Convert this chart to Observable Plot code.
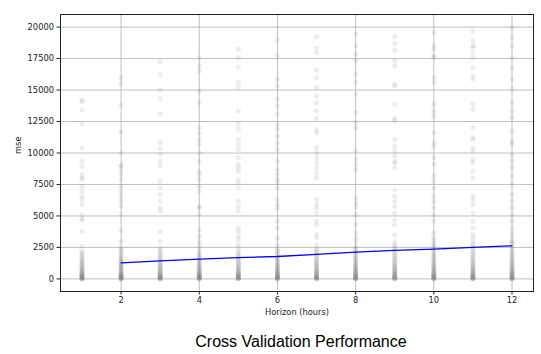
<!DOCTYPE html>
<html>
<head>
<meta charset="utf-8">
<script src="https://cdn.jsdelivr.net/npm/d3@7"></script>
<script src="https://cdn.jsdelivr.net/npm/@observablehq/plot@0.6"></script>
<style>
  html, body { margin: 0; padding: 0; background: white; }
  #chart { width: 541px; }
  #title { width: 480px; margin-left: 61px; text-align: center; font-family: "Liberation Sans", Arial, sans-serif; font-size: 16px; line-height: 19px; color: #000; margin-top: 10px; }
</style>
</head>
<body>
<div id="chart"></div>
<div id="title">Cross Validation Performance</div>
<script>
const horizons = [1, 2, 3, 4, 5, 6, 7, 8, 9, 10, 11, 12];
const xTicks = [2, 4, 6, 8, 10, 12];
const yTicks = [0, 2500, 5000, 7500, 10000, 12500, 15000, 17500, 20000];

const mse1 = [14190, 14100, 13390, 12330, 10410, 9350, 8950, 8290, 8020, 7890, 7360, 6960, 6560, 6300, 5900, 5100, 4780, 4700, 3770, 2580, 2180, 2050, 1910,
  0, 10, 20, 35, 50, 70, 90, 110, 130, 160, 190, 220, 250, 290, 330, 370, 410, 450, 500, 550, 600, 660, 720, 780, 850, 920, 990, 1060, 1140, 1220, 1300, 1380, 1470, 1560, 1680, 1800];
const mse2 = [16000, 15540, 13810, 11690, 10020, 9030, 8990, 8690, 8290, 7890, 7360, 6960, 6560, 6160, 5760, 5100, 3830, 2970, 2450, 2310, 2150,
  0, 15, 30, 45, 60, 80, 100, 125, 150, 180, 210, 240, 280, 320, 360, 400, 450, 500, 550, 610, 670, 730, 800, 870, 940, 1010, 1090, 1170, 1250, 1340, 1430, 1520, 1620, 1730, 1850, 1980];
const mse3 = [17240, 16230, 15040, 14320, 13120, 10860, 10330, 9880, 9350, 8950, 7760, 7230, 6700, 6160, 5630, 5370, 3770, 2970, 2450, 2300,
  0, 10, 25, 40, 60, 80, 105, 130, 160, 190, 220, 260, 300, 340, 380, 430, 480, 530, 590, 650, 710, 780, 850, 920, 1000, 1080, 1160, 1250, 1340, 1440, 1540, 1650, 1760, 1880, 2010, 2150];
const mse4 = [17590, 16920, 16520, 14930, 14000, 12010, 11610, 11080, 10680, 10020, 9350, 8550, 8290, 7890, 7360, 6960, 5760, 5630, 5100, 3910, 3370, 2970, 2710, 2450,
  0, 15, 30, 50, 70, 90, 115, 140, 170, 200, 235, 270, 310, 350, 395, 440, 490, 540, 600, 660, 720, 790, 860, 930, 1010, 1090, 1170, 1260, 1350, 1450, 1550, 1660, 1780, 1900, 2050, 2200];
const mse5 = [18250, 17590, 16840, 15600, 15250, 13340, 12330, 11880, 11080, 10680, 10280, 9620, 9090, 8820, 8550, 7890, 7630, 7230, 6160, 5760, 5370, 4040, 3770, 3370, 3110, 2710, 2450,
  0, 10, 25, 45, 65, 85, 110, 135, 165, 195, 230, 265, 305, 345, 390, 435, 485, 535, 590, 650, 710, 780, 850, 920, 1000, 1080, 1170, 1260, 1350, 1450, 1560, 1670, 1790, 1920, 2060, 2200];
const mse6 = [18970, 17720, 15860, 15330, 14270, 13730, 13070, 12270, 11880, 11340, 10810, 10280, 9350, 8690, 8290, 7890, 7630, 7230, 6300, 5900, 5630, 4570, 4040, 3240, 2710,
  0, 15, 30, 50, 70, 95, 120, 145, 175, 205, 240, 275, 315, 360, 405, 450, 500, 555, 610, 670, 730, 800, 870, 940, 1020, 1100, 1190, 1280, 1380, 1480, 1590, 1700, 1820, 1950, 2090, 2240, 2400];
const mse7 = [19240, 18330, 17990, 16580, 16000, 15200, 14530, 14000, 13340, 12750, 11800, 11610, 10410, 10020, 9620, 9220, 8820, 8420, 8020, 6300, 5900, 5630, 5240, 4570, 4300, 3510, 3240, 2710,
  0, 10, 25, 45, 65, 90, 115, 140, 170, 200, 235, 270, 310, 355, 400, 450, 500, 555, 615, 675, 740, 810, 880, 960, 1040, 1120, 1210, 1300, 1400, 1500, 1610, 1720, 1840, 1970, 2110, 2260, 2420];
const mse8 = [19450, 18520, 17850, 17320, 16260, 15600, 14660, 13210, 12410, 12010, 10150, 9480, 9090, 8690, 6430, 6030, 5760, 5100, 4300, 3640, 3240, 2970,
  0, 15, 30, 50, 75, 100, 125, 155, 185, 220, 255, 295, 335, 380, 425, 475, 525, 580, 640, 700, 765, 835, 905, 980, 1060, 1140, 1230, 1320, 1420, 1520, 1630, 1740, 1860, 1990, 2130, 2280, 2440, 2600];
const mse9 = [19240, 18700, 18170, 17320, 16920, 15460, 15330, 13870, 12750, 12590, 11080, 10540, 10150, 9750, 9350, 9220, 8820, 7090, 6560, 6160, 5760, 5240, 4700, 4300, 3510, 2970, 2710,
  0, 10, 25, 45, 70, 95, 120, 150, 180, 215, 250, 290, 330, 375, 420, 470, 520, 575, 635, 695, 760, 830, 900, 975, 1055, 1135, 1225, 1315, 1415, 1515, 1625, 1735, 1855, 1985, 2125, 2275, 2435, 2600];
const mse10 = [19580, 18520, 18250, 17720, 17600, 16000, 15600, 13870, 13340, 12940, 11610, 10810, 10540, 9620, 9090, 8150, 7760, 7230, 6560, 6160, 5630, 5100, 4570, 3640, 3240, 2970,
  0, 15, 30, 50, 75, 100, 130, 160, 190, 225, 260, 300, 340, 385, 430, 480, 530, 585, 645, 705, 770, 840, 910, 985, 1065, 1150, 1240, 1330, 1430, 1530, 1640, 1750, 1870, 2000, 2140, 2290, 2450, 2620, 2800];
const mse11 = [19710, 18910, 18520, 18390, 17990, 17590, 16790, 16120, 15860, 13870, 13470, 12010, 11210, 11080, 10410, 10150, 9480, 9220, 8550, 8020, 6560, 6300, 5900, 5240, 4570, 4040, 3510, 3240,
  0, 10, 25, 45, 70, 95, 125, 155, 185, 220, 255, 295, 335, 380, 425, 475, 525, 580, 640, 700, 765, 835, 905, 980, 1060, 1145, 1235, 1325, 1425, 1525, 1635, 1745, 1865, 1995, 2135, 2285, 2445, 2615, 2800, 3000];
const mse12 = [19980, 19180, 18520, 17590, 16790, 15860, 15060, 14000, 13340, 12810, 11740, 10940, 10680, 9880, 9350, 8820, 8150, 7490, 6700, 6160, 5630, 5100, 4570, 4040, 3640, 3370, 2970,
  0, 15, 30, 50, 75, 100, 130, 160, 195, 230, 265, 305, 345, 390, 435, 485, 535, 590, 650, 710, 775, 845, 915, 990, 1070, 1155, 1245, 1335, 1435, 1535, 1645, 1755, 1875, 2005, 2145, 2295, 2455, 2625, 2810, 3010];

const lineHorizons = [2, 3, 4, 5, 6, 7, 8, 9, 10, 11, 12];
const lineMse = [1280, 1430, 1570, 1690, 1780, 1950, 2125, 2260, 2365, 2500, 2630];

const allSeries = [mse1, mse2, mse3, mse4, mse5, mse6, mse7, mse8, mse9, mse10, mse11, mse12];
const points = [];
horizons.forEach((h, i) => allSeries[i].forEach(v => points.push({h, v})));
const meanData = lineHorizons.map((h, i) => ({h, v: lineMse[i]}));

const chart = Plot.plot({
  width: 541,
  height: 322,
  marginLeft: 60,
  marginRight: 8,
  marginTop: 14,
  marginBottom: 31,
  style: {fontFamily: "DejaVu Sans", fontSize: "8.3px", background: "white", color: "#222"},
  x: {domain: [0.45, 12.55]},
  y: {domain: [-1000, 21000]},
  marks: [
    Plot.gridX(xTicks, {stroke: "#b0b0b0", strokeOpacity: 1, strokeWidth: 0.8}),
    Plot.gridY(yTicks, {stroke: "#b0b0b0", strokeOpacity: 1, strokeWidth: 0.8}),
    Plot.dot(points, {x: "h", y: "v", r: 2.5, fill: "gray", fillOpacity: 0.14, stroke: null}),
    Plot.line(meanData, {x: "h", y: "v", stroke: "blue", strokeWidth: 1.3}),
    Plot.frame({stroke: "#222", strokeWidth: 1}),
    Plot.axisX(xTicks, {tickSize: 3.5, tickPadding: 2, label: null, tickFormat: d3.format("d")}),
    Plot.axisY(yTicks, {tickSize: 3.5, tickPadding: 3, label: null, tickFormat: d3.format("d")}),
    Plot.text(["Horizon (hours)"], {frameAnchor: "bottom", dy: 23, fill: "#222"}),
    Plot.text(["mse"], {frameAnchor: "left", dx: -42, dy: 1, rotate: -90, fill: "#222"})
  ]
});
document.getElementById("chart").appendChild(chart);
</script>
</body>
</html>
